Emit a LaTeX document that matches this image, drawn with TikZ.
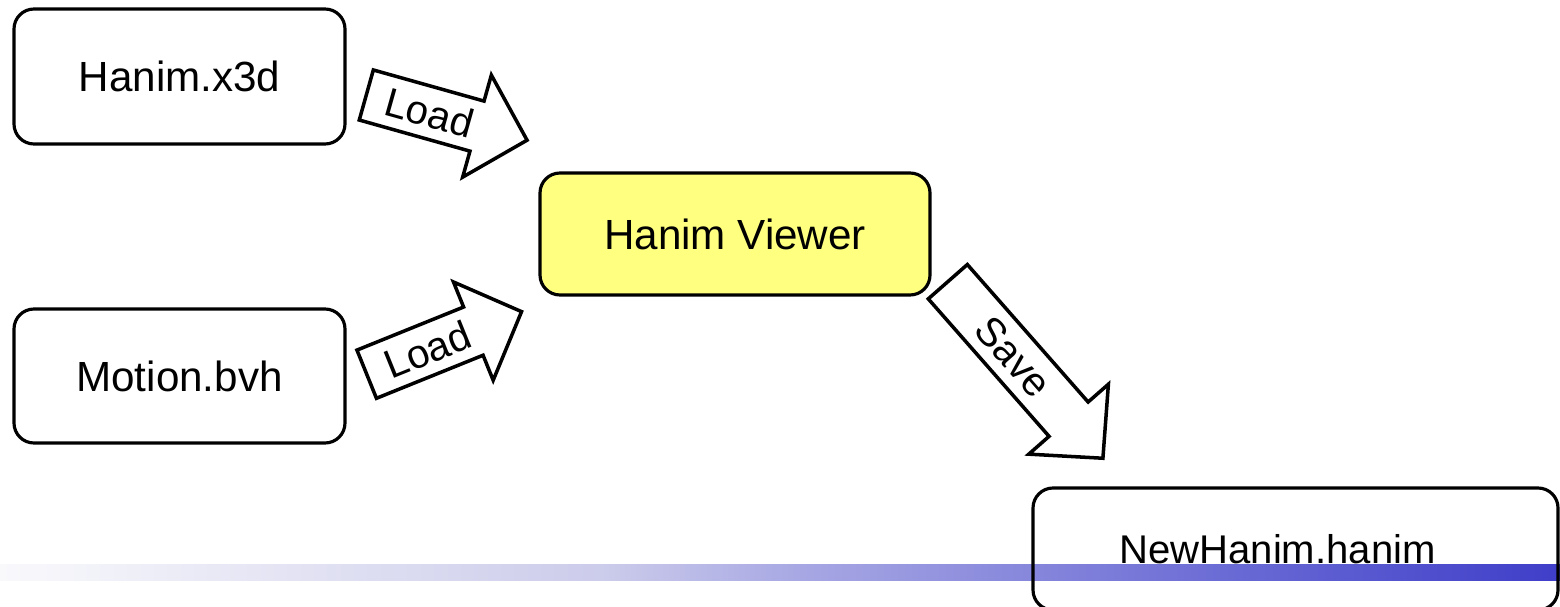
\documentclass[tikz,border=0pt]{standalone}
\usepackage{fontspec}
\setmainfont{Liberation Sans}

\definecolor{barA}{HTML}{F9F9FC}
\definecolor{barB}{HTML}{CCCCEB}
\definecolor{barC}{HTML}{A8A8E4}
\definecolor{barD}{HTML}{6E6ED6}
\definecolor{barE}{HTML}{3E3EC9}
\definecolor{viewerfill}{HTML}{FFFF80}
% tikz fits the path into the 25bp--75bp part of the shading
\pgfdeclarehorizontalshading{barshade}{100bp}{color(0bp)=(barA); color(25bp)=(barA);
  color(44.25bp)=(barB); color(50.5bp)=(barC); color(63.5bp)=(barD);
  color(75bp)=(barE); color(100bp)=(barE)}

% block arrow: name, tail centre, angle, length, label
\newcommand{\blockarrow}[5]{%
  \begin{scope}[shift={#2},rotate=#3]
    \draw[blockline] (0,0.26) -- ({#4-0.52},0.26) -- ({#4-0.52},0.53) -- (#4,0)
      -- ({#4-0.52},-0.53) -- ({#4-0.52},-0.26) -- (0,-0.26) -- cycle;
    \node[arrowtext,rotate=#3] (#1) at ({(#4-0.52)/2+0.08},0) {#5};
  \end{scope}}

\begin{document}
\begin{tikzpicture}[
  box/.style={draw,line width=0.9pt,rounded corners=0.2cm,
    minimum width=3.31cm,minimum height=1.35cm,font=\fontsize{12}{14}\selectfont},
  blockline/.style={draw,line width=1pt,fill=white,line join=miter},
  arrowtext/.style={inner sep=0pt,font=\fontsize{11.5}{13}\selectfont}]
\useasboundingbox (0,0) rectangle (15.6,6.06);

% bar along the bottom
\shade[shading=barshade] (0,0.26) rectangle (15.6,0.42);

% files and viewer
\node[box] (x3d) at (1.795,5.295) {Hanim.x3d};
\node[box,minimum height=1.34cm] (bvh) at (1.795,2.30) {Motion.bvh};
\node[box,fill=viewerfill,minimum width=3.9cm,minimum height=1.22cm] (viewer) at (7.35,3.72) {Hanim Viewer};
\node[box,minimum width=5.25cm,minimum height=1.22cm,
  label={[xshift=-1.8mm,font=\fontsize{11.4}{14}\selectfont]center:NewHanim.hanim}] (new) at (12.955,0.57) {};

% load and save
\blockarrow{load1}{(3.663,5.11)}{-15.7}{1.67}{Load}
\blockarrow{load2}{(3.667,2.318)}{22}{1.67}{Load}
\blockarrow{save}{(9.478,3.243)}{-48.7}{2.35}{Save}

\end{tikzpicture}
\end{document}
